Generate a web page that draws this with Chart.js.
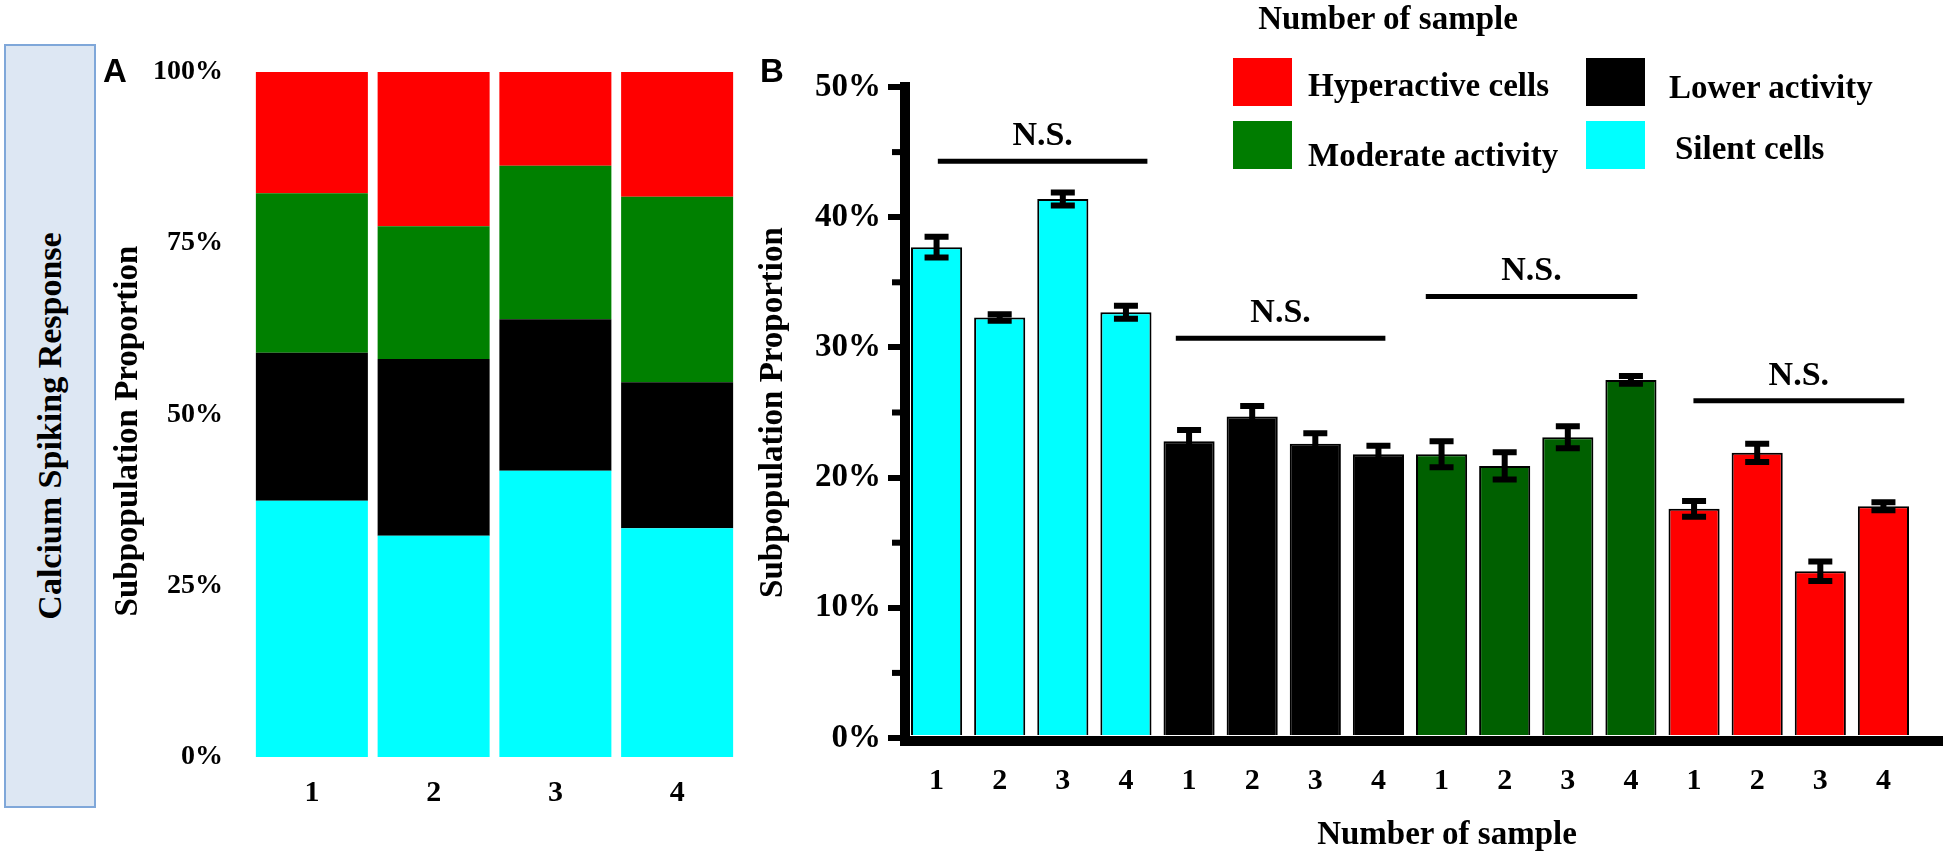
<!DOCTYPE html>
<html>
<head>
<meta charset="utf-8">
<script src="https://cdn.jsdelivr.net/npm/chart.js@4.4.1/dist/chart.umd.min.js"></script>
<style>
html, body { margin: 0; padding: 0; background: #fff; }
#page { position: relative; width: 1950px; height: 855px; overflow: hidden;
  font-family: 'Liberation Serif', 'Times New Roman', serif; font-weight: bold; color: #000; }
canvas { position: absolute; top: 0; }
#chartA { left: 0; }
#chartB { left: 700px; }
.txt { position: absolute; white-space: nowrap; line-height: 1; transform: translate(-50%, -50%); }
#sideBox { position: absolute; left: 4px; top: 44px; width: 92px; height: 764px; box-sizing: border-box;
  background: #dde7f3; border: 2px solid #7fa7d9; }
#sideText { position: absolute; left: 50px; top: 426px; font-size: 34px; white-space: nowrap; line-height: 1;
  transform: translate(-50%, -50%) rotate(-90deg); }
.panel { font-family: 'Liberation Sans', Arial, sans-serif; font-size: 33px; }
.sw { position: absolute; width: 59px; height: 48px; }
.lt { position: absolute; font-size: 33px; white-space: nowrap; line-height: 1; transform: translateY(-50%); }
</style>
</head>
<body>
<div id="page">
  <div id="sideBox"></div>
  <div id="sideText">Calcium Spiking Response</div>
  <canvas id="chartA" width="760" height="855"></canvas>
  <canvas id="chartB" width="1250" height="855"></canvas>
  <div class="txt panel" style="left:115px;top:70px">A</div>
  <div class="txt panel" style="left:772px;top:70px">B</div>
  <div class="txt" style="left:1388px;top:18px;font-size:33px">Number of sample</div>
  <div class="txt" style="left:1447px;top:833px;font-size:33px">Number of sample</div>
  <div id="legend"></div>
</div>
<script>
// samples and subpopulations
const sampleLabels = ['1', '2', '3', '4'];
const seriesNames = ['Silent cells', 'Lower activity', 'Moderate activity', 'Hyperactive cells'];

// panel A: share of each subpopulation per sample (%)
const aSilent = [37.4, 32.3, 41.8, 33.4];
const aLower = [21.6, 25.8, 22.1, 21.3];
const aModerate = [23.3, 19.4, 22.4, 27.1];
const aHyper = [17.7, 22.5, 13.7, 18.2];

// panel B: mean proportion (%) and error
const bSilent = [37.7, 32.3, 41.4, 32.7];
const bLower = [22.8, 24.7, 22.6, 21.8];
const bModerate = [21.8, 20.9, 23.1, 27.5];
const bHyper = [17.6, 21.9, 12.8, 17.8];
const eSilent = [0.8, 0.25, 0.5, 0.5];
const eLower = [0.85, 0.8, 0.8, 0.65];
const eModerate = [1.0, 1.05, 0.85, 0.3];
const eHyper = [0.6, 0.7, 0.75, 0.3];

// N.S. brackets: start / end position on the category axis, level (%)
const nsStart = [0.02, 3.79, 7.75, 11.99];
const nsEnd = [3.34, 7.11, 11.10, 15.33];
const nsLevel = [44.3, 30.7, 33.9, 25.9];

const yTicksA = [0, 25, 50, 75, 100];
const yMinorB = [5, 15, 25, 35, 45];

const colorsA = ['#00ffff', '#000000', '#008000', '#ff0000'];
const colorsB = ['#00ffff', '#000000', '#006000', '#ff0000'];
const legendColors = ['#00ffff', '#000000', '#007c00', '#ff0000'];

Chart.defaults.font.family = "'Liberation Serif', 'Times New Roman', serif";
Chart.defaults.font.weight = 'bold';
Chart.defaults.color = '#000';

const serif = size => ({ family: "'Liberation Serif', 'Times New Roman', serif", size: size, weight: 'bold' });

// ---- panel A ----
const aValues = [aSilent, aLower, aModerate, aHyper];
new Chart(document.getElementById('chartA'), {
  type: 'bar',
  data: {
    labels: sampleLabels,
    datasets: aValues.map((vals, g) => ({
      label: seriesNames[g],
      data: vals,
      backgroundColor: colorsA[g],
      borderWidth: 0,
      barPercentage: 0.92,
      categoryPercentage: 1
    }))
  },
  options: {
    responsive: false,
    animation: false,
    layout: { padding: { left: 105, right: 22, top: 72, bottom: 38 } },
    plugins: { legend: { display: false }, tooltip: { enabled: false } },
    scales: {
      x: {
        stacked: true,
        grid: { display: false, drawTicks: false },
        border: { display: false },
        ticks: { font: serif(30), padding: 18 },
        afterFit: s => { s.height = 60; }
      },
      y: {
        stacked: true,
        min: 0, max: 100,
        grid: { display: false, drawTicks: false },
        border: { display: false },
        afterBuildTicks: s => { s.ticks = yTicksA.map(v => ({ value: v })); },
        ticks: { font: serif(28), padding: 28, callback: v => v + '%' },
        title: { display: true, text: 'Subpopulation Proportion    ', font: serif(33) },
        afterFit: s => { s.width = 146; }
      }
    }
  }
});

// ---- panel B ----
const bMeans = [bSilent, bLower, bModerate, bHyper];
const bErrs = [eSilent, eLower, eModerate, eHyper];
const bLabels = [].concat(sampleLabels, sampleLabels, sampleLabels, sampleLabels);

const errorBars = {
  id: 'errorBars',
  afterDatasetsDraw(chart) {
    const ctx = chart.ctx, y = chart.scales.y;
    ctx.save();
    ctx.strokeStyle = '#000';
    ctx.lineWidth = 6;
    chart.data.datasets.forEach((ds, g) => {
      chart.getDatasetMeta(g).data.forEach((bar, i) => {
        if (ds.data[i] == null) return;
        const e = bErrs[g][i % 4];
        const top = y.getPixelForValue(ds.data[i] + e);
        const bot = y.getPixelForValue(ds.data[i] - e);
        ctx.beginPath();
        ctx.moveTo(bar.x, top); ctx.lineTo(bar.x, bot);
        ctx.moveTo(bar.x - 12, top); ctx.lineTo(bar.x + 12, top);
        ctx.moveTo(bar.x - 12, bot); ctx.lineTo(bar.x + 12, bot);
        ctx.stroke();
      });
    });
    ctx.restore();
  }
};

const axisExtras = {
  id: 'axisExtras',
  afterDraw(chart) {
    const { ctx, chartArea: a, scales: { x, y } } = chart;
    ctx.save();
    ctx.fillStyle = '#000';
    // long x axis line and minor ticks on the y axis
    ctx.fillRect(a.left - 5, a.bottom - 2, chart.width - 7 - (a.left - 5), 10);
    yMinorB.forEach(v => {
      const p = y.getPixelForValue(v);
      ctx.fillRect(a.left - 13, p - 3, 9, 6);
    });
    // N.S. brackets
    ctx.strokeStyle = '#000';
    ctx.lineWidth = 5;
    ctx.font = "bold 34px 'Liberation Serif', 'Times New Roman', serif";
    ctx.textAlign = 'center';
    ctx.textBaseline = 'middle';
    nsStart.forEach((s, k) => {
      const x0 = x.getPixelForValue(s), x1 = x.getPixelForValue(nsEnd[k]);
      const py = y.getPixelForValue(nsLevel[k]);
      ctx.beginPath(); ctx.moveTo(x0, py); ctx.lineTo(x1, py); ctx.stroke();
      ctx.fillText('N.S.', (x0 + x1) / 2, py - 25);
    });
    ctx.restore();
  }
};

new Chart(document.getElementById('chartB'), {
  type: 'bar',
  data: {
    labels: bLabels,
    datasets: bMeans.map((vals, g) => ({
      label: seriesNames[g],
      data: bLabels.map((_, i) => Math.floor(i / 4) === g ? vals[i % 4] : null),
      backgroundColor: colorsB[g],
      borderColor: '#000',
      borderWidth: 2,
      grouped: false,
      barPercentage: 0.81,
      categoryPercentage: 1
    }))
  },
  options: {
    responsive: false,
    animation: false,
    layout: { padding: { left: 50, right: 35, top: 87, bottom: 57 } },
    plugins: { legend: { display: false }, tooltip: { enabled: false } },
    scales: {
      x: {
        grid: { display: false, drawTicks: false },
        border: { display: false },
        ticks: { font: serif(30), padding: 25, autoSkip: false, maxRotation: 0 },
        afterFit: s => { s.height = 60; }
      },
      y: {
        min: 0, max: 50,
        grid: { display: true, drawOnChartArea: false, drawTicks: true, tickLength: 17, lineWidth: 6, color: '#000' },
        border: { display: true, width: 10, color: '#000' },
        ticks: { stepSize: 10, font: serif(33), padding: 7, callback: v => v + '%' },
        title: { display: true, text: 'Subpopulation Proportion', font: serif(33) },
        afterFit: s => { s.width = 155; }
      }
    }
  },
  plugins: [errorBars, axisExtras]
});

// ---- legend (two columns) ----
const legendOrder = [3, 1, 2, 0];
const legendSlots = [
  { x: 1233, y: 58, tx: 1308, ty: 85 },
  { x: 1586, y: 58, tx: 1669, ty: 87 },
  { x: 1233, y: 121, tx: 1308, ty: 155 },
  { x: 1586, y: 121, tx: 1675, ty: 148 }
];
const legend = document.getElementById('legend');
legendOrder.forEach((g, k) => {
  const s = legendSlots[k];
  const sw = document.createElement('div');
  sw.className = 'sw';
  sw.style.left = s.x + 'px';
  sw.style.top = s.y + 'px';
  sw.style.background = legendColors[g];
  legend.appendChild(sw);
  const t = document.createElement('div');
  t.className = 'lt';
  t.style.left = s.tx + 'px';
  t.style.top = s.ty + 'px';
  t.textContent = seriesNames[g];
  legend.appendChild(t);
});
</script>
</body>
</html>
